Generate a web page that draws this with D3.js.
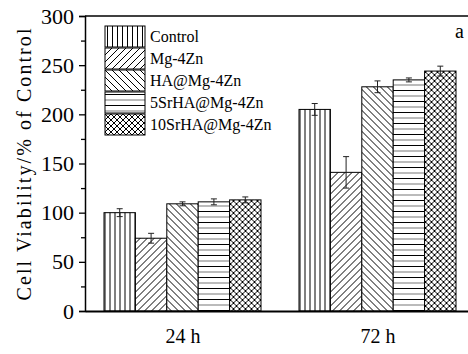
<!DOCTYPE html>
<html>
<head>
<meta charset="utf-8">
<script src="https://cdn.jsdelivr.net/npm/d3@7"></script>
<style>
  body { margin: 0; background: #fff; }
  svg { display: block; }
  svg text { font-family: "Liberation Serif", "Times New Roman", serif !important; fill: #000; }
</style>
</head>
<body>
<div id="chart"></div>
<script>
// data
const groups = ["24 h", "72 h"];
const series = ["Control", "Mg-4Zn", "HA@Mg-4Zn", "5SrHA@Mg-4Zn", "10SrHA@Mg-4Zn"];
const means = [
  [100, 74, 109, 111, 113],   // 24 h
  [205, 141, 228, 235, 244]   // 72 h
];
const errs = [
  [4, 5, 2, 3, 3],
  [6, 16, 6, 2, 5]
];
const yTicks = [0, 50, 100, 150, 200, 250, 300];

const W = 468, H = 354;
const margin = {top: 16, right: -7, bottom: 43, left: 85};
const x0 = margin.left;
const yTop = margin.top, yBot = H - margin.bottom;

const svg = d3.select("#chart").append("svg")
  .attr("width", W).attr("height", H);

// hatch patterns, one per series
const defs = svg.append("defs");
function pat(id, w, h, draw) {
  const p = defs.append("pattern").attr("id", id)
    .attr("patternUnits", "userSpaceOnUse").attr("width", w).attr("height", h);
  p.append("rect").attr("width", w).attr("height", h).attr("fill", "#fff");
  draw(p);
}
const ln = (p, a, b, c, d, col) => p.append("line")
  .attr("x1", a).attr("y1", b).attr("x2", c).attr("y2", d)
  .attr("stroke", col || "#000").attr("stroke-width", 1);

pat("p0", 5, 5, p => ln(p, 2.5, 0, 2.5, 5));
pat("p1", 7, 7, p => { ln(p, -1, 8, 8, -1); ln(p, -4, 4, 4, -4); ln(p, 3, 11, 11, 3); });
pat("p2", 7, 7, p => { ln(p, -1, -1, 8, 8); ln(p, -4, 3, 4, 11); ln(p, 3, -4, 11, 4); });
pat("p3", 11, 11, p => { ln(p, 0, 2.5, 11, 2.5); ln(p, 0, 8, 11, 8, "#777"); });
pat("p4", 6, 6, p => {
  ln(p, -1, 7, 7, -1); ln(p, -4, 4, 4, -4); ln(p, 2, 10, 10, 2);
  ln(p, -1, -1, 7, 7); ln(p, -4, 2, 4, 10); ln(p, 2, -4, 10, 4);
});

const y = d3.scaleLinear().domain([0, 300]).range([yBot, yTop]);
const xg = d3.scalePoint().domain(groups).range([x0, x0 + 390]).padding(0.5);
const xs = d3.scaleBand().domain(series).range([-78.5, 78.5]);

// bars
groups.forEach((g, gi) => {
  const grp = svg.append("g").attr("transform", `translate(${xg(g)},0)`);
  grp.selectAll("rect")
    .data(series)
    .join("rect")
      .attr("x", s => xs(s))
      .attr("y", (s, i) => y(means[gi][i]))
      .attr("width", xs.bandwidth())
      .attr("height", (s, i) => yBot - y(means[gi][i]))
      .attr("fill", (s, i) => `url(#p${i})`)
      .attr("stroke", "#000").attr("stroke-width", 1);

  // error bars
  const eb = grp.selectAll("g.eb")
    .data(series)
    .join("g").attr("class", "eb")
      .attr("transform", s => `translate(${xs(s) + xs.bandwidth() / 2},0)`)
      .attr("stroke", "#222").attr("stroke-width", 1);
  eb.append("line")
    .attr("y1", (s, i) => y(means[gi][i] + errs[gi][i]))
    .attr("y2", (s, i) => y(means[gi][i] - errs[gi][i]));
  eb.append("line").attr("x1", -3).attr("x2", 3)
    .attr("y1", (s, i) => y(means[gi][i] + errs[gi][i]))
    .attr("y2", (s, i) => y(means[gi][i] + errs[gi][i]));
  eb.append("line").attr("x1", -3).attr("x2", 3)
    .attr("y1", (s, i) => y(means[gi][i] - errs[gi][i]))
    .attr("y2", (s, i) => y(means[gi][i] - errs[gi][i]));
});

// y axis, major + minor ticks outward
const yAxis = svg.append("g").attr("transform", `translate(${x0},0)`)
  .call(d3.axisLeft(y).tickValues(yTicks).tickSize(6).tickPadding(5));
yAxis.selectAll("text").attr("font-size", 22);
svg.append("g").attr("transform", `translate(${x0},0)`)
  .call(d3.axisLeft(y).tickValues(d3.range(25, 300, 50)).tickSize(4).tickFormat(""))
  .select(".domain").remove();
svg.selectAll(".domain").attr("stroke-width", 1.5);
svg.selectAll(".tick line").attr("stroke-width", 1.3);

// x axis (no ticks)
const xAxis = svg.append("g").attr("transform", `translate(0,${yBot})`)
  .call(d3.axisBottom(xg).tickSize(0).tickPadding(18));
xAxis.select(".domain").attr("stroke-width", 2.2);
xAxis.selectAll("text").attr("font-size", 20);

// top frame line
svg.append("line").attr("x1", x0).attr("x2", W + 5)
  .attr("y1", yTop).attr("y2", yTop)
  .attr("stroke", "#000").attr("stroke-width", 1.5);

// axis title
svg.append("text")
  .attr("transform", `translate(31,${(yTop + yBot) / 2 + 1}) rotate(-90)`)
  .attr("text-anchor", "middle")
  .attr("font-size", 20)
  .attr("textLength", 272).attr("lengthAdjust", "spacing")
  .text("Cell Viability/% of Control");

// panel letter
svg.append("text").attr("x", 455).attr("y", 38)
  .attr("font-size", 20).text("a");

// legend
const leg = svg.append("g").attr("transform", "translate(105,26)");
const row = leg.selectAll("g").data(series).join("g")
  .attr("transform", (d, i) => `translate(0,${i * 22})`);
row.append("rect").attr("width", 40).attr("height", 21)
  .attr("fill", (d, i) => `url(#p${i})`)
  .attr("stroke", "#000").attr("stroke-width", 1);
row.append("text").attr("x", 45).attr("y", 16)
  .attr("font-size", 16).text(d => d);
</script>
</body>
</html>
